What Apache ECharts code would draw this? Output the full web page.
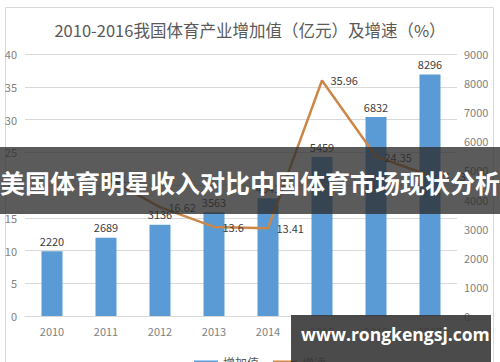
<!DOCTYPE html>
<html>
<head>
<meta charset="utf-8">
<script src="https://cdn.jsdelivr.net/npm/echarts@6/dist/echarts.min.js"></script>
<style>
html,body{margin:0;padding:0;background:#fff;}
#c{width:500px;height:362px;}
</style>
</head>
<body>
<div id="c"></div>
<script>
var titleText = '2010-2016我国体育产业增加值（亿元）及增速（%）';
var years = ['2010','2011','2012','2013','2014','2015','2016','2017'];
var addedValue = [2220, 2689, 3136, 3563, 4041, 5459, 6832, 8296];
var growthRate = [null, 21.13, 16.62, 13.6, 13.41, 35.96, 24.35, 21.43];
var seriesNames = ['增加值', '增速'];
var bannerText = '美国体育明星收入对比中国体育市场现状分析';
var watermarkText = 'www.rongkengsj.com';

var chart = echarts.init(document.getElementById('c'), null, {renderer: 'svg'});
var font = '"Noto Sans CJK SC", "Noto Sans", sans-serif';
chart.setOption({
  backgroundColor: '#fff',
  animation: false,
  title: {
    text: titleText,
    left: 'center',
    top: 17,
    textStyle: {fontSize: 16.5, fontWeight: 'normal', color: '#595959', fontFamily: font}
  },
  legend: {
    data: seriesNames,
    left: 189,
    top: 351,
    icon: 'rect',
    itemWidth: 24,
    itemHeight: 3,
    itemGap: 14,
    textStyle: {fontSize: 12, color: '#595959', fontFamily: font}
  },
  grid: {left: 25, right: 43, top: 54, bottom: 46},
  xAxis: {
    type: 'category',
    data: years,
    axisLine: {lineStyle: {color: '#d9d9d9'}},
    axisTick: {show: false},
    axisLabel: {color: '#7f7f7f', fontSize: 11, margin: 9, fontFamily: font}
  },
  yAxis: [
    {
      type: 'value', min: 0, max: 40, interval: 5,
      axisLine: {show: false}, axisTick: {show: false},
      axisLabel: {color: '#7f7f7f', fontSize: 11, margin: 8, fontFamily: font},
      splitLine: {lineStyle: {color: '#d9d9d9'}}
    },
    {
      type: 'value', min: 0, max: 9000, interval: 1000,
      axisLine: {show: false}, axisTick: {show: false},
      axisLabel: {color: '#7f7f7f', fontSize: 11, margin: 7, fontFamily: font,
                  formatter: function (v) { return String(v); }},
      splitLine: {show: false}
    }
  ],
  series: [
    {
      name: seriesNames[0], type: 'bar', yAxisIndex: 1, data: addedValue,
      barWidth: 21,
      itemStyle: {color: '#5B9BD5'},
      label: {show: true, position: 'top', color: '#404040', fontSize: 11, distance: 5, fontFamily: font}
    },
    {
      name: seriesNames[1], type: 'line', yAxisIndex: 0, data: growthRate,
      symbol: 'circle', symbolSize: 1, showSymbol: true, z: 3,
      lineStyle: {color: '#CC8748', width: 2.5},
      itemStyle: {color: '#CC8748'},
      labelLayout: {hideOverlap: false},
      label: {show: true, position: 'right', color: '#404040', fontSize: 11, distance: 8, fontFamily: font,
              formatter: function (p) { return p.value == null ? '' : String(p.value); }}
    }
  ],
  graphic: [
    {type: 'rect', left: 3, top: 5, z: 0, silent: true,
     shape: {width: 488, height: 370}, style: {fill: 'none', stroke: '#d9d9d9', lineWidth: 1}},
    {type: 'rect', left: 0, top: 147, z: 100,
     shape: {width: 500, height: 67}, style: {fill: 'rgba(45,45,45,0.78)'}},
    {type: 'text', left: 'center', top: 169, z: 101,
     style: {text: bannerText, fill: '#fff', font: 'bold 25px "Noto Sans CJK SC", sans-serif'}},
    {type: 'rect', left: 291, top: 315, z: 100,
     shape: {width: 200, height: 50}, style: {fill: 'rgba(55,55,55,0.9)'}},
    {type: 'text', left: 301, top: 325, z: 101,
     style: {text: watermarkText, fill: '#fff', font: 'bold 17.5px "Open Sans", "DejaVu Sans", sans-serif'}}
  ]
});
</script>
</body>
</html>
